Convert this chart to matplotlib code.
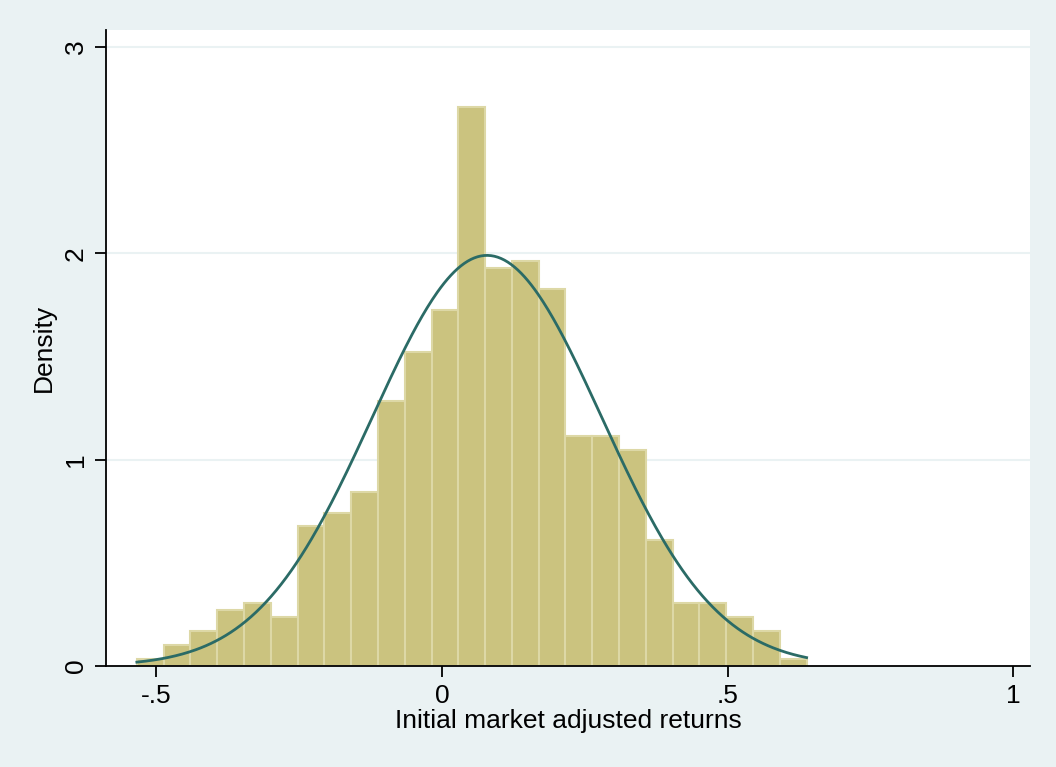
import numpy as np
import matplotlib
matplotlib.use('Agg')
from matplotlib import pyplot as plt

# data range and bar heights (density)
x_min = -0.534
x_max = 0.638
densities = [0.033, 0.10, 0.17, 0.27, 0.305, 0.237, 0.68, 0.74, 0.845, 1.285,
             1.52, 1.726, 2.708, 1.928, 1.962, 1.826, 1.115, 1.115, 1.047, 0.61,
             0.303, 0.303, 0.236, 0.168, 0.034]

# fitted normal
mu = 0.0787
sigma = 0.2005

x_ticks = [-0.5, 0, 0.5, 1]
x_ticklabels = ['-.5', '0', '.5', '1']
y_ticks = [0, 1, 2, 3]

BG = '#eaf2f3'
BAR = '#cbc37f'
BAR_EDGE = '#ddd8a6'
LINE = '#2b6b66'

plt.rcParams['font.family'] = ['Liberation Sans', 'DejaVu Sans']

fig = plt.figure(figsize=(10.56, 7.67), dpi=100, facecolor=BG)
ax = fig.add_axes([0.1004, 0.1317, 0.8750, 0.8292])
ax.set_facecolor('white')

edges = np.linspace(x_min, x_max, len(densities) + 1)
width = edges[1] - edges[0]
ax.bar(edges[:-1], densities, width=width, align='edge', color=BAR,
       edgecolor=BAR_EDGE, linewidth=1.5, zorder=2)

xs = np.linspace(x_min, x_max, 400)
ys = np.exp(-(xs - mu) ** 2 / (2 * sigma ** 2)) / (sigma * np.sqrt(2 * np.pi))
ax.plot(xs, ys, color=LINE, linewidth=2, zorder=3)

for y in y_ticks[1:]:
    ax.axhline(y, color=BG, linewidth=1.5, zorder=1)

ax.set_xlim(-0.588, 1.029)
ax.set_ylim(0, 3.082)
ax.set_xticks(x_ticks)
ax.set_xticklabels(x_ticklabels)
ax.set_yticks(y_ticks)
ax.set_yticklabels([str(t) for t in y_ticks], rotation=90, va='center')

for s in ['top', 'right']:
    ax.spines[s].set_visible(False)
for s in ['left', 'bottom']:
    ax.spines[s].set_color('black')
    ax.spines[s].set_linewidth(1.3)
ax.tick_params(direction='out', length=8, width=1.3, labelsize=19, pad=5)

ax.set_xlabel('Initial market adjusted returns', fontsize=19, labelpad=1)
ax.set_ylabel('Density', fontsize=19, labelpad=6)

fig.savefig('out.png', dpi=100, facecolor=BG)
